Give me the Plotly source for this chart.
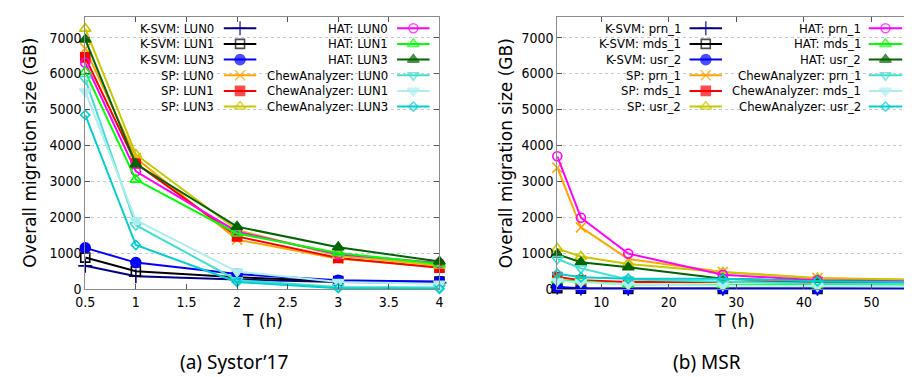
import plotly.graph_objects as go

W, H = 912, 377

# ---------------- data : (a) Systor'17 ----------------
t_systor = [0.5, 1, 2, 3, 4]
ksvm_lun0 = [650, 360, 270, 200, 180]
ksvm_lun1 = [880, 500, 330, 230, 210]
ksvm_lun3 = [1150, 740, 420, 250, 210]
sp_lun0 = [6700, 3650, 1380, 850, 620]
sp_lun1 = [6450, 3500, 1470, 870, 600]
sp_lun3 = [7250, 3750, 1650, 930, 660]
hat_lun0 = [6300, 3280, 1600, 970, 730]
hat_lun1 = [6050, 3050, 1550, 1010, 700]
hat_lun3 = [6950, 3480, 1740, 1170, 770]
chew_lun0 = [5850, 1780, 250, 60, 50]
chew_lun1 = [5500, 1920, 490, 200, 150]
chew_lun3 = [4850, 1230, 200, 30, 10]

# ---------------- data : (b) MSR ----------------
t_msr = [3.5, 7, 14, 28, 42, 56]
ksvm_prn1 = [50, 20, 10, 10, 10, 10]
ksvm_mds1 = [30, 15, 10, 10, 10, 10]
ksvm_usr2 = [60, 30, 20, 15, 15, 15]
sp_prn1 = [3380, 1720, 840, 480, 310, 270]
sp_mds1 = [340, 250, 200, 200, 200, 200]
sp_usr2 = [1130, 910, 700, 470, 300, 260]
hat_prn1 = [3700, 1990, 990, 400, 250, 220]
hat_mds1 = [250, 220, 130, 120, 110, 110]
hat_usr2 = [970, 750, 610, 290, 220, 200]
chew_prn1 = [840, 580, 270, 200, 150, 150]
chew_mds1 = [230, 200, 130, 100, 80, 80]
chew_usr2 = [430, 330, 290, 290, 220, 200]

names_systor = ["K-SVM: LUN0", "K-SVM: LUN1", "K-SVM: LUN3",
                "SP: LUN0", "SP: LUN1", "SP: LUN3",
                "HAT: LUN0", "HAT: LUN1", "HAT: LUN3",
                "ChewAnalyzer: LUN0", "ChewAnalyzer: LUN1", "ChewAnalyzer: LUN3"]
values_systor = [ksvm_lun0, ksvm_lun1, ksvm_lun3, sp_lun0, sp_lun1, sp_lun3,
                 hat_lun0, hat_lun1, hat_lun3, chew_lun0, chew_lun1, chew_lun3]

names_msr = ["K-SVM: prn_1", "K-SVM: mds_1", "K-SVM: usr_2",
             "SP: prn_1", "SP: mds_1", "SP: usr_2",
             "HAT: prn_1", "HAT: mds_1", "HAT: usr_2",
             "ChewAnalyzer: prn_1", "ChewAnalyzer: mds_1", "ChewAnalyzer: usr_2"]
values_msr = [ksvm_prn1, ksvm_mds1, ksvm_usr2, sp_prn1, sp_mds1, sp_usr2,
              hat_prn1, hat_mds1, hat_usr2, chew_prn1, chew_mds1, chew_usr2]

# ---------------- styles ----------------
styles = [
    dict(color="#00008B", symbol="cross-thin-open", size=10),
    dict(color="#000000", symbol="square-open", size=9),
    dict(color="#0000FF", symbol="circle", size=10),
    dict(color="#FFA500", symbol="x-thin-open", size=10),
    dict(color="#FF0000", symbol="square", size=9),
    dict(color="#C8C800", symbol="triangle-up-open", size=10),
    dict(color="#FF00FF", symbol="circle-open", size=9),
    dict(color="#00FF00", symbol="triangle-up-open", size=10),
    dict(color="#006400", symbol="triangle-up", size=10),
    dict(color="#40E0D0", symbol="triangle-down-open", size=10),
    dict(color="#AFEEEE", symbol="triangle-down", size=10),
    dict(color="#00CED1", symbol="diamond-open", size=7),
]

TICK_FONT = dict(family="DejaVu Sans Condensed, DejaVu Sans", size=14, color="#000")
LEG_FONT = dict(family="DejaVu Sans Condensed, DejaVu Sans", size=13, color="#000")
TITLE_FONT = dict(family="DejaVu Sans", size=17, color="#000")
CAP_FONT = dict(family="Noto Sans", size=19, color="#000")

# pixel layout helpers
plot_top, plot_bot = 9, 287.3
ydom = [1 - plot_bot / H, 1 - plot_top / H]
left_dom = [68.3 / W, 428 / W]
right_dom = [547.7 / W, 908 / W]

# legend geometry (pixel coordinates on the overlay axis)
legend_rows = [20.7 + 16 * i for i in range(6)]
legend_cols = {
    "a": [dict(text_r=201, x0=209, x1=242), dict(text_r=378, x0=385, x1=418)],
    "b": [dict(text_r=675, x0=682, x1=715), dict(text_r=858, x0=864, x1=898)],
}

fig = go.Figure()
annotations = []

panels = [
    ("a", t_systor, names_systor, values_systor, "x", "y"),
    ("b", t_msr, names_msr, values_msr, "x2", "y2"),
]
for key, t, names, vals, xa, ya in panels:
    for i, (nm, v) in enumerate(zip(names, vals)):
        st = styles[i]
        mk = dict(symbol=st["symbol"], size=st["size"], color=st["color"],
                  line=dict(color=st["color"], width=1.6))
        fig.add_trace(go.Scatter(
            x=t, y=v, xaxis=xa, yaxis=ya, name=nm, mode="lines+markers",
            line=dict(color=st["color"], width=2), marker=mk,
            cliponaxis=False, showlegend=False))
        # manual legend entry (sample on the right of the text, gnuplot style)
        c = legend_cols[key][i // 6]
        yy = legend_rows[i % 6]
        mk_leg = dict(mk)
        mk_leg["size"] = [0, st["size"], 0]
        fig.add_trace(go.Scatter(
            x=[c["x0"], (c["x0"] + c["x1"]) / 2, c["x1"]], y=[yy, yy, yy],
            xaxis="x3", yaxis="y3", mode="lines+markers",
            line=dict(color=st["color"], width=2), marker=mk_leg,
            cliponaxis=False, showlegend=False, hoverinfo="skip"))
        annotations.append(dict(x=c["text_r"], y=yy, xref="x3", yref="y3",
                                text=nm, showarrow=False, xanchor="right",
                                yanchor="middle", font=LEG_FONT))

# axis titles and captions
for cx, ylab_x, cap, capx in [(248, 12, "(a) Systor’17", 219), (728, 495, "(b) MSR", 700)]:
    annotations.append(dict(x=cx, y=320, xref="x3", yref="y3", text="T (h)",
                            showarrow=False, xanchor="center", yanchor="middle",
                            font=TITLE_FONT))
    annotations.append(dict(x=ylab_x, y=148, xref="x3", yref="y3",
                            text="Overall migration size (GB)", textangle=-90,
                            showarrow=False, xanchor="center", yanchor="middle",
                            font=TITLE_FONT))
    annotations.append(dict(x=capx, y=362, xref="x3", yref="y3", text=cap,
                            showarrow=False, xanchor="center", yanchor="middle",
                            font=CAP_FONT))

axis_common = dict(showline=True, linecolor="#8c8c8c", linewidth=1,
                   mirror="allticks", ticks="inside", ticklen=5,
                   tickcolor="#555555", tickwidth=1, zeroline=False,
                   tickfont=TICK_FONT, fixedrange=True)
yaxis_common = dict(axis_common, range=[0, 7580], dtick=1000, tick0=0,
                    showgrid=True, gridcolor="#c8c8c8", griddash="dot",
                    gridwidth=1, domain=ydom)

fig.update_layout(
    width=W, height=H,
    margin=dict(l=0, r=0, t=0, b=0),
    paper_bgcolor="white", plot_bgcolor="rgba(0,0,0,0)",
    showlegend=False,
    xaxis=dict(axis_common, domain=left_dom, range=[0.5, 4], tick0=0.5,
               dtick=0.5, showgrid=False, anchor="y"),
    yaxis=dict(yaxis_common, anchor="x"),
    xaxis2=dict(axis_common, domain=right_dom, range=[3.5, 56], tick0=0,
                dtick=10, showgrid=False, anchor="y2"),
    yaxis2=dict(yaxis_common, anchor="x2"),
    xaxis3=dict(domain=[0, 1], range=[0, W], visible=False, anchor="y3",
                fixedrange=True),
    yaxis3=dict(domain=[0, 1], range=[H, 0], visible=False, anchor="x3",
                fixedrange=True),
    annotations=annotations,
)

fig.write_html("out.html")
